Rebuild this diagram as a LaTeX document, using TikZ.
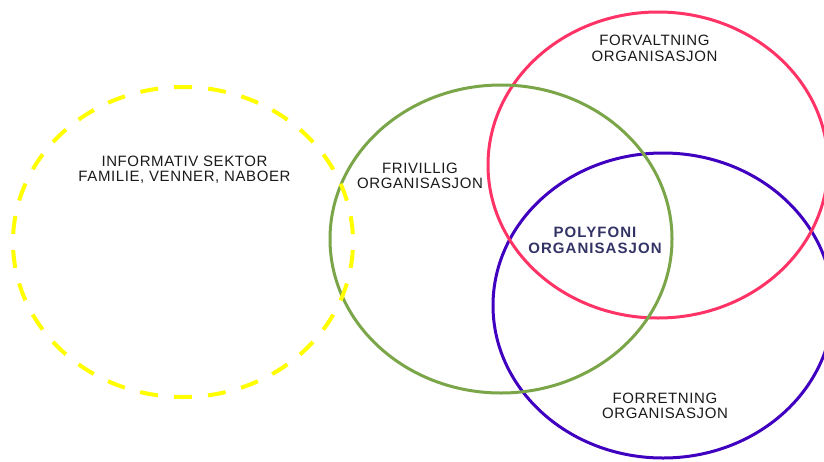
\documentclass[tikz,border=0pt]{standalone}
\usepackage{fontspec}
\setmainfont{Liberation Sans}
\newfontfamily\lbl[LetterSpace=4]{Liberation Sans}
\newfontfamily\lblb[LetterSpace=7]{Liberation Sans}
\definecolor{cyel}{HTML}{FFFF00}
\definecolor{cgrn}{HTML}{7AA548}
\definecolor{cred}{HTML}{FF3366}
\definecolor{cpur}{HTML}{4000BF}
\definecolor{cnavy}{HTML}{333366}
\definecolor{ctxt}{HTML}{1A1A1A}
\begin{document}
\begin{tikzpicture}[x=1pt,y=-1pt,
  ring/.style={line width=3pt},
  lbltext/.style={font=\lbl\fontsize{15}{15.5}\selectfont, text=ctxt, align=center, inner sep=0pt},
  boldtext/.style={font=\lblb\bfseries\fontsize{15}{16}\selectfont, text=cnavy, align=center, inner sep=0pt}]
\useasboundingbox (0,0) rectangle (824,461);
% circles
\draw[ring, cpur] (663,305.5) ellipse [x radius=170, y radius=152.5];
\draw[ring, cred] (658,165) ellipse [x radius=170, y radius=153];
\draw[ring, cgrn] (501,239) ellipse [x radius=171, y radius=154];
\draw[line width=4pt, cyel, dash pattern=on 18pt off 16.06pt, dash phase=26pt] (183,242) ellipse [x radius=170, y radius=155];
% labels
\node[lbltext] (inf) at (184.5,169.5) {INFORMATIV SEKTOR\\FAMILIE, VENNER, NABOER};
\node[lbltext] (fri) at (420,176) {FRIVILLIG\\ORGANISASJON};
\node[lbltext] (forv) at (654.5,48.5) {FORVALTNING\\ORGANISASJON};
\node[boldtext] (poly) at (595,240) {POLYFONI\\ORGANISASJON};
\node[lbltext] (forr) at (665,406) {FORRETNING\\ORGANISASJON};
\end{tikzpicture}
\end{document}
